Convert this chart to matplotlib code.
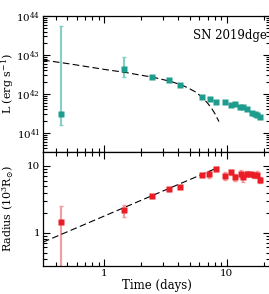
import matplotlib
matplotlib.use('Agg')
import matplotlib.pyplot as plt
import numpy as np

# luminosity points (days, erg/s)
t_L = [0.445, 1.44, 2.45, 3.36, 4.18, 6.25, 7.26, 8.23, 9.75, 10.8, 11.8,
       12.9, 13.7, 14.6, 16.0, 17.0, 17.7, 18.7]
L = [3.0e41, 4.4e42, 2.75e42, 2.3e42, 1.74e42, 8.4e41, 7.3e41, 6.1e41, 6.2e41,
     5.3e41, 5.5e41, 4.5e41, 4.5e41, 4.1e41, 3.3e41, 3.1e41, 2.9e41, 2.5e41]
L_lo = [1.43e41, 1.6e42, 0, 0, 0, 0, 0, 0, 0, 0, 0, 0, 0, 0, 0, 0, 0, 0]
L_hi = [5.6e43, 4.3e42, 0, 0, 0, 0, 0, 0, 0, 0, 0, 0, 0, 0, 0, 0, 0, 0]

# model curve
t_Lfit = [0.316, 0.5, 1.0, 1.5, 2.0, 2.5, 3.0, 3.5, 4.0, 4.5, 5.0, 5.5, 6.0,
          6.5, 7.0, 7.5, 8.0, 8.65]
logL_fit = [42.87, 42.78, 42.63, 42.55, 42.48, 42.43, 42.37, 42.32, 42.26,
            42.20, 42.13, 42.06, 41.97, 41.87, 41.76, 41.64, 41.50, 41.29]

# radius points (days, 10^3 Rsun)
t_R = [0.445, 1.44, 2.45, 3.36, 4.18, 6.25, 7.2, 8.23, 9.75, 10.8, 11.8, 13.0,
       13.7, 14.6, 15.8, 16.6, 17.6, 18.7]
R = [1.46, 2.19, 3.5, 4.47, 4.9, 7.35, 7.45, 8.9, 7.16, 8.0, 6.77, 7.6, 6.77,
     7.6, 7.6, 7.25, 7.4, 6.17]
R_lo = [1.2, 0.5, 0.2, 0.25, 0.3, 0.4, 0.9, 0.6, 1.1, 0.8, 0.9, 1.0, 1.0, 0.8,
        0.6, 0.7, 0.9, 0.6]
R_hi = [1.08, 0.44, 0.2, 0.25, 0.3, 0.4, 0.9, 0.6, 1.1, 0.8, 0.9, 1.0, 1.0,
        0.8, 0.6, 0.7, 0.9, 0.6]

t_Rfit = [0.316, 8.65]
R_fit = [0.72, 9.6]

teal = '#1e9c8e'
teal_lt = '#86cfc6'
red = '#ea1c26'
red_lt = '#f59a9e'

plt.rc('font', family='DejaVu Serif', size=8)
plt.rc('mathtext', fontset='dejavuserif')

fig = plt.figure(figsize=(2.69, 2.94), dpi=100)
w = 227.0 / 269
ax1 = fig.add_axes([43.0 / 269, 1 - 152.0 / 294, w, 136.0 / 294])
ax2 = fig.add_axes([43.0 / 269, 1 - 266.0 / 294, w, 114.0 / 294], sharex=ax1)

# top: luminosity
ax1.plot(t_Lfit, [10 ** v for v in logL_fit], ls=(0, (6, 3)), color='black', lw=0.8, zorder=3)
ax1.errorbar(t_L, L, yerr=[L_lo, L_hi], fmt='none', ecolor=teal_lt, elinewidth=1.5,
             capsize=1.5, capthick=1.0, zorder=2)
ax1.plot(t_L, L, 's', color=teal, ms=3.8, mec='none', zorder=4)
ax1.set_yscale('log')
ax1.set_xscale('log')
ax1.set_ylim(10 ** 40.51, 1e44)
ax1.set_ylabel(r'L (erg s$^{-1}$)', fontsize=8)
ax1.text(0.985, 0.86, 'SN 2019dge', transform=ax1.transAxes, ha='right', va='center', fontsize=8.5)
ax1.tick_params(labelbottom=False)

# bottom: radius
ax2.plot(t_Rfit, R_fit, ls=(0, (6, 3)), color='black', lw=0.8, zorder=3)
ax2.errorbar(t_R, R, yerr=[R_lo, R_hi], fmt='none', ecolor=red_lt, elinewidth=1.5,
             capsize=1.5, capthick=1.0, zorder=2)
ax2.plot(t_R, R, 's', color=red, ms=3.8, mec='none', zorder=4)
ax2.set_yscale('log')
ax2.set_ylim(0.316, 16.2)
ax2.set_xlim(0.316, 22.6)
ax2.set_yticks([1, 10])
ax2.set_yticklabels(['1', '10'])
ax2.set_ylabel(r'Radius (10$^3$R$_{\odot}$)', fontsize=8)
ax2.set_xlabel('Time (days)', fontsize=8.5, labelpad=1)
ax2.set_xticks([1, 10])
ax2.set_xticklabels(['1', '10'])

for a in (ax1, ax2):
    a.tick_params(which='both', direction='in', top=True, right=True, width=0.8, labelsize=7.5)
    a.tick_params(which='major', length=5, pad=2)
    a.tick_params(which='minor', length=3)
    for s in a.spines.values():
        s.set_linewidth(0.9)

ax1.yaxis.set_label_coords(-0.117, 0.5)
ax2.yaxis.set_label_coords(-0.117, 0.5)

fig.savefig('out.png', dpi=100)
